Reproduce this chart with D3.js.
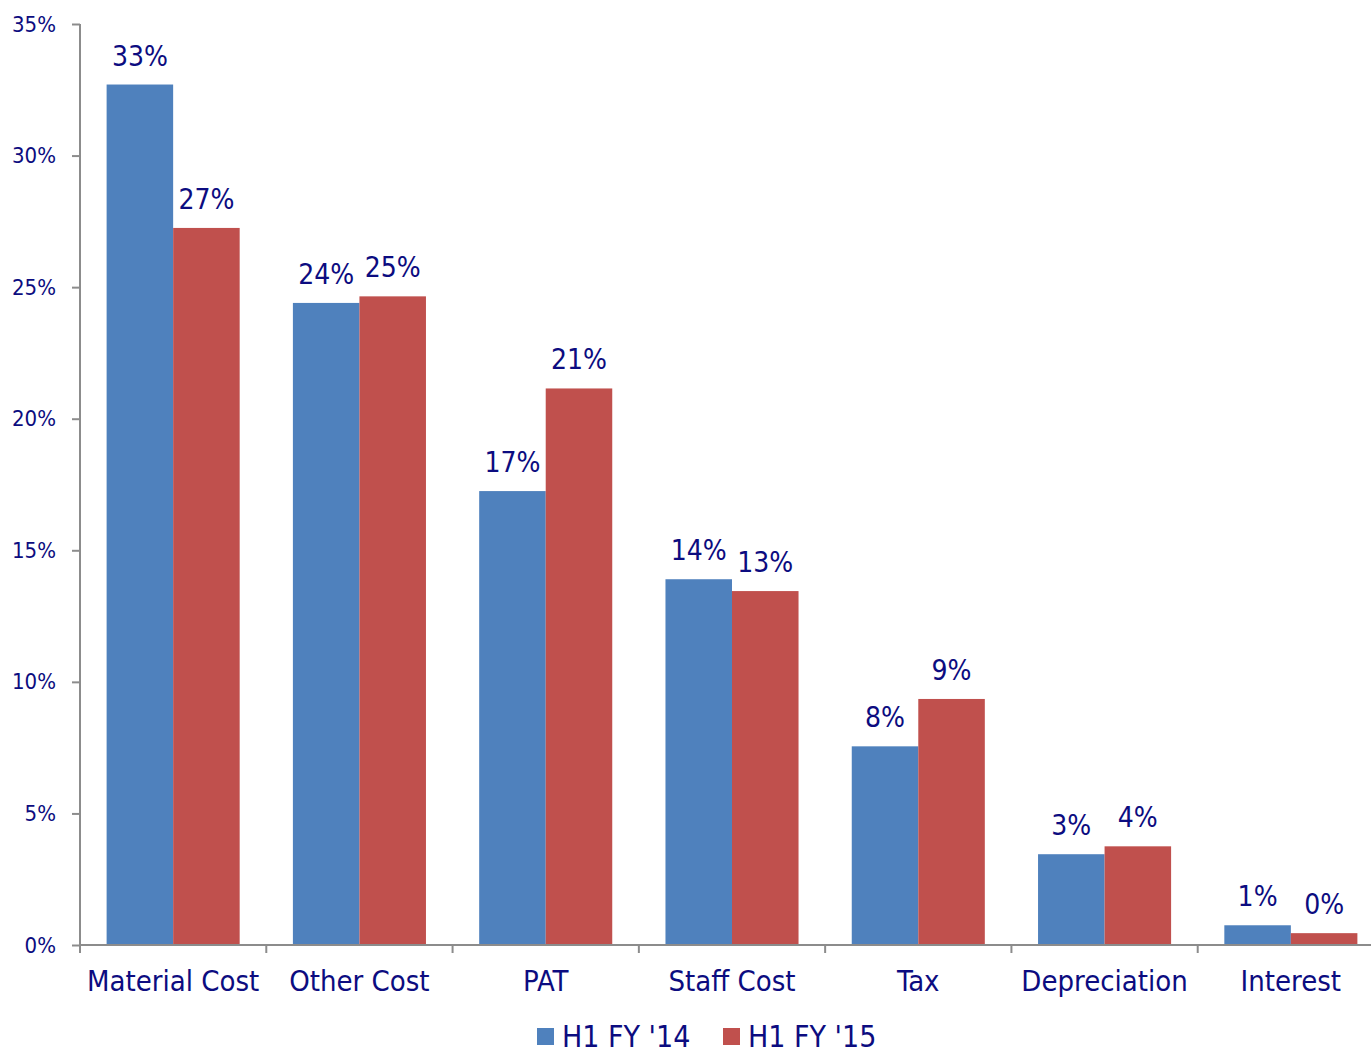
<!DOCTYPE html>
<html>
<head>
<meta charset="utf-8">
<script src="https://cdn.jsdelivr.net/npm/d3@7"></script>
<style>
  html, body { margin: 0; padding: 0; background: #fff; }
  svg { display: block; }
  text { font-family: "DejaVu Sans Condensed", "DejaVu Sans", sans-serif; fill: #0c0c80; }
</style>
</head>
<body>
<svg id="chart" width="1371" height="1053"></svg>
<script>
// Cost breakdown as a share of revenue, two half-years side by side
const categories = ["Material Cost", "Other Cost", "PAT", "Staff Cost", "Tax", "Depreciation", "Interest"];
const seriesNames = ["H1 FY '14", "H1 FY '15"];
const fy14 = [32.7, 24.4, 17.25, 13.9, 7.55, 3.45, 0.75];
const fy15 = [27.25, 24.65, 21.15, 13.45, 9.35, 3.75, 0.45];
const yTicks = [0, 5, 10, 15, 20, 25, 30, 35];
const colors = ["#4f81bd", "#c0504d"];

const svg = d3.select("#chart");
const x0 = 80, x1 = 1384, yTop = 24, yBase = 945;

const x = d3.scaleBand().domain(categories).range([x0, x1]).paddingInner(0).paddingOuter(0);
const xs = d3.scaleBand().domain(seriesNames).range([0, x.bandwidth()]).paddingInner(0).paddingOuter(0.4);
const y = d3.scaleLinear().domain([0, 35]).range([yBase, yTop]);

const axisColor = "#8c8c8c";

// bars
const rows = categories.map((c, i) => ({ c, vals: [fy14[i], fy15[i]] }));
const groups = svg.append("g").selectAll("g").data(rows).join("g")
  .attr("transform", d => `translate(${x(d.c)},0)`);
groups.selectAll("rect").data(d => d.vals.map((v, j) => ({ v, s: seriesNames[j], j })))
  .join("rect")
  .attr("x", d => xs(d.s))
  .attr("width", xs.bandwidth())
  .attr("y", d => y(d.v))
  .attr("height", d => y(0) - y(d.v))
  .attr("fill", d => colors[d.j]);

// value labels
groups.selectAll("text.val").data(d => d.vals.map((v, j) => ({ v, s: seriesNames[j], j })))
  .join("text")
  .attr("class", "val")
  .attr("x", d => xs(d.s) + xs.bandwidth() / 2)
  .attr("y", d => y(d.v) - 19)
  .attr("text-anchor", "middle")
  .style("font-size", "28px")
  .text(d => Math.round(d.v) + "%");

// y axis
const yAxis = d3.axisLeft(y).tickValues(yTicks).tickSize(8).tickPadding(16)
  .tickFormat(d => d + "%");
const gy = svg.append("g").attr("transform", `translate(${x0},0)`).call(yAxis);
gy.select(".domain").remove();
gy.append("line").attr("x1", 0).attr("x2", 0).attr("y1", yTop).attr("y2", yBase + 8)
  .attr("stroke", axisColor).attr("stroke-width", 2);
gy.selectAll(".tick line").attr("stroke", axisColor).attr("stroke-width", 2);
gy.selectAll(".tick text").style("font-size", "22px").attr("fill", "#0c0c80");

// x axis
const gx = svg.append("g").attr("transform", `translate(0,${yBase})`);
gx.append("line").attr("x1", x0).attr("x2", x1).attr("y1", 0).attr("y2", 0)
  .attr("stroke", axisColor).attr("stroke-width", 2);
gx.selectAll("line.tk").data(categories.concat(["end"])).join("line")
  .attr("class", "tk")
  .attr("x1", (d, i) => x0 + i * x.bandwidth())
  .attr("x2", (d, i) => x0 + i * x.bandwidth())
  .attr("y1", 0).attr("y2", 8)
  .attr("stroke", axisColor).attr("stroke-width", 2);
gx.selectAll("text").data(categories).join("text")
  .attr("x", d => x(d) + x.bandwidth() / 2)
  .attr("y", 46)
  .attr("text-anchor", "middle")
  .style("font-size", "29px")
  .text(d => d);

// legend
const legend = svg.append("g").attr("transform", "translate(537,1028)");
const legendX = [0, 186];
seriesNames.forEach((s, i) => {
  const g = legend.append("g").attr("transform", `translate(${legendX[i]},0)`);
  g.append("rect").attr("width", 17).attr("height", 17).attr("fill", colors[i]);
  g.append("text").attr("x", 25).attr("y", 19).style("font-size", "30px").text(s);
});
</script>
</body>
</html>
